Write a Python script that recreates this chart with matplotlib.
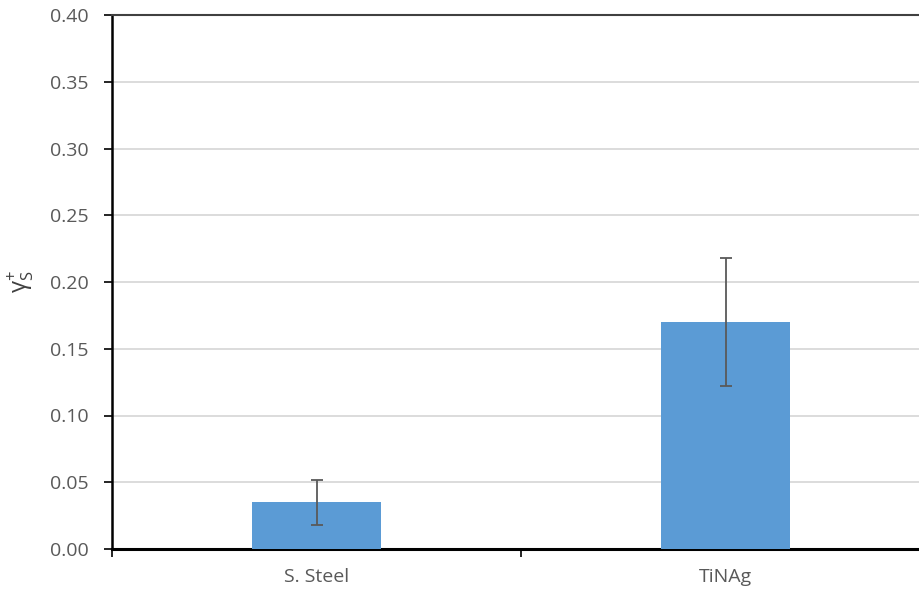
import numpy as np
from matplotlib import pyplot as plt

categories = ["S. Steel", "TiNAg"]
values = [0.035, 0.170]
errors = [0.017, 0.048]
y_ticks = [0.00, 0.05, 0.10, 0.15, 0.20, 0.25, 0.30, 0.35, 0.40]

plt.rcParams['font.family'] = ['Open Sans', 'DejaVu Sans']

fig = plt.figure(figsize=(9.19, 5.98), dpi=100)
# plot area runs past the right edge of the picture, as in the source
ax = fig.add_axes([112/919, 49/598, 818/919, 534/598])

x = np.arange(len(categories))
ax.bar(x, values, width=0.313, color='#5B9BD5', zorder=3)
ax.errorbar(x, values, yerr=errors, fmt='none', ecolor='#595959',
            elinewidth=1.3, capsize=4.5, capthick=1.3, zorder=4)

ax.set_ylim(0, 0.40)
ax.set_xlim(-0.5, 1.5)
ax.set_yticks(y_ticks)
ax.set_yticklabels(["%.2f" % v for v in y_ticks])
ax.set_xticks(x)
ax.set_xticklabels(categories)
ax.set_xticks([-0.5, 0.5, 1.5], minor=True)
ax.tick_params(axis='x', which='major', length=0, pad=14, labelsize=14, colors='#595959')
ax.tick_params(axis='x', which='minor', length=6, width=1.2, color='black')
ax.tick_params(axis='y', length=6, width=1.2, color='black', labelsize=14,
               labelcolor='#595959', pad=11)

ax.yaxis.grid(True, color='#D9D9D9', linewidth=1.3, zorder=0)
ax.set_axisbelow(True)
ax.spines['right'].set_visible(False)
ax.spines['top'].set_color('#404040')
ax.spines['top'].set_linewidth(1.5)
ax.spines['left'].set_linewidth(1.8)
ax.spines['bottom'].set_linewidth(2.2)

ax.set_ylabel(r'$\mathregular{\gamma_S^{+}}$', fontsize=17, color='#404040', labelpad=10)

plt.savefig("out.png")
